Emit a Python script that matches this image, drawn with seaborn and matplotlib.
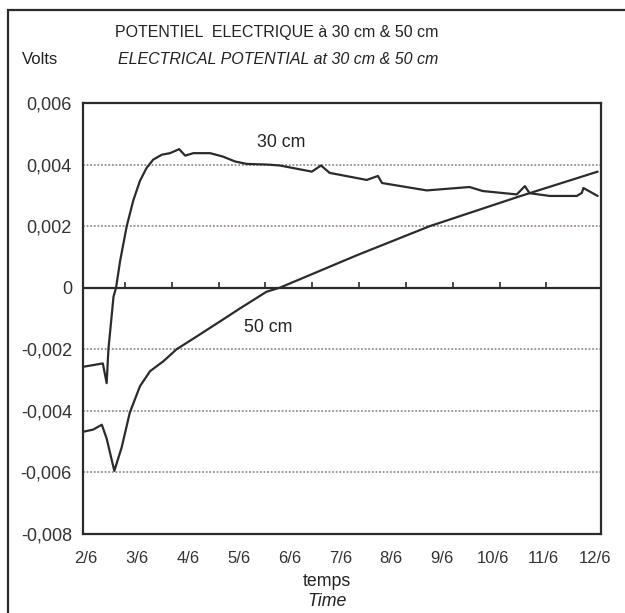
import matplotlib
matplotlib.use("Agg")
import matplotlib.pyplot as plt
import seaborn as sns
import numpy as np
from matplotlib.patches import Rectangle

# time in days of June (2 -> 2/6), potential in volts
days_30 = [1.94, 2.33, 2.405, 2.44, 2.54, 2.59, 2.67, 2.80, 2.93, 3.06, 3.19, 3.32,
           3.49, 3.65, 3.83, 3.95, 4.11, 4.44, 4.69, 4.93, 5.16, 5.56, 5.81, 6.44,
           6.62, 6.79, 7.52, 7.74, 7.82, 8.70, 9.54, 9.80, 10.47, 10.63, 10.72,
           11.12, 11.65, 11.75, 11.78, 12.06]
volts_30 = [-0.00257, -0.00246, -0.00310, -0.00200, -0.00029, 0.0, 0.00087, 0.00200,
            0.00284, 0.00347, 0.00389, 0.00416, 0.00432, 0.00437, 0.00450, 0.00429,
            0.00437, 0.00437, 0.00426, 0.00410, 0.00402, 0.00400, 0.00397, 0.00377,
            0.00397, 0.00373, 0.00350, 0.00363, 0.00340, 0.00316, 0.00327, 0.00314,
            0.00303, 0.00330, 0.00307, 0.00298, 0.00298, 0.00308, 0.00324, 0.00298]

days_50 = [1.94, 2.14, 2.31, 2.405, 2.556, 2.70, 2.86, 3.06, 3.26, 3.52, 3.78, 4.18,
           4.63, 5.03, 5.55, 5.81, 7.32, 8.76, 10.00, 10.53, 12.06]
volts_50 = [-0.00468, -0.00461, -0.00445, -0.00490, -0.00595, -0.00519, -0.00406,
            -0.00320, -0.00271, -0.00239, -0.00200, -0.00158, -0.00110, -0.00067,
            -0.00013, 0.0, 0.00105, 0.00200, 0.00268, 0.00297, 0.00377]

x_labels = ["2/6", "3/6", "4/6", "5/6", "6/6", "7/6", "8/6", "9/6", "10/6", "11/6", "12/6"]
y_values = [0.006, 0.004, 0.002, 0.0, -0.002, -0.004, -0.006, -0.008]
y_labels = ["0,006", "0,004", "0,002", "0", "-0,002", "-0,004", "-0,006", "-0,008"]
grid_values = [0.004, 0.002, -0.002, -0.004, -0.006]

sns.set_style("white")
plt.rcParams['font.family'] = ['Liberation Sans', 'DejaVu Sans']

ink = "#2b2b2b"
fig = plt.figure(figsize=(6.25, 6.13), dpi=100)
ax = fig.add_axes([0.1328, 0.1289, 0.9611 - 0.1328, 0.832 - 0.1289])

for g in grid_values:
    ax.axhline(g, color="#9a8c86", lw=1.3, ls=(0, (1, 1)), zorder=1)
ax.axhline(0, color=ink, lw=1.6, zorder=2)

# small tick marks standing on the zero line
tick_x = 2.766 + 0.9206 * np.arange(10)
ax.vlines(tick_x, 0, 0.0002, color=ink, lw=1.2, zorder=2)

sns.lineplot(x=days_30, y=volts_30, ax=ax, color=ink, lw=1.6, sort=False, zorder=3)
sns.lineplot(x=days_50, y=volts_50, ax=ax, color=ink, lw=1.6, sort=False, zorder=3)

ax.text(5.83, 0.00472, "30 cm", ha="center", va="center", fontsize=12.8, color="#222")
ax.text(5.58, -0.00129, "50 cm", ha="center", va="center", fontsize=12.8, color="#222")

ax.set_xlim(1.94, 12.12)
ax.set_ylim(-0.008, 0.006)
ax.set_xticks(range(2, 13))
ax.set_xticklabels(x_labels, fontsize=12, color="#333")
ax.set_yticks(y_values)
ax.set_yticklabels(y_labels, fontsize=13, color="#333")
ax.tick_params(axis="x", length=0, pad=12)
ax.tick_params(axis="y", length=0, pad=8)
for s in ax.spines.values():
    s.set_color(ink)
    s.set_linewidth(1.6)

fig.text(277 / 625, 1 - 33 / 613, "POTENTIEL  ELECTRIQUE à 30 cm & 50 cm",
         ha="center", va="center", fontsize=11.5, color="#222")
fig.text(278 / 625, 1 - 60 / 613, "ELECTRICAL POTENTIAL at 30 cm & 50 cm",
         ha="center", va="center", fontsize=11.5, style="italic", color="#222")
fig.text(40 / 625, 1 - 60 / 613, "Volts", ha="center", va="center", fontsize=12, color="#222")
fig.text(327 / 625, 1 - 582 / 613, "temps", ha="center", va="center", fontsize=12.8, color="#222")
fig.text(327 / 625, 1 - 602 / 613, "Time", ha="center", va="center", fontsize=12.8,
         style="italic", color="#222")

# outer frame of the figure (runs off the right and bottom)
fig.patches.append(Rectangle((8 / 625, -0.2), 1.2, 1.2 - 10 / 613, transform=fig.transFigure,
                             fill=False, edgecolor=ink, lw=1.6))

fig.savefig("out.png", dpi=100)
